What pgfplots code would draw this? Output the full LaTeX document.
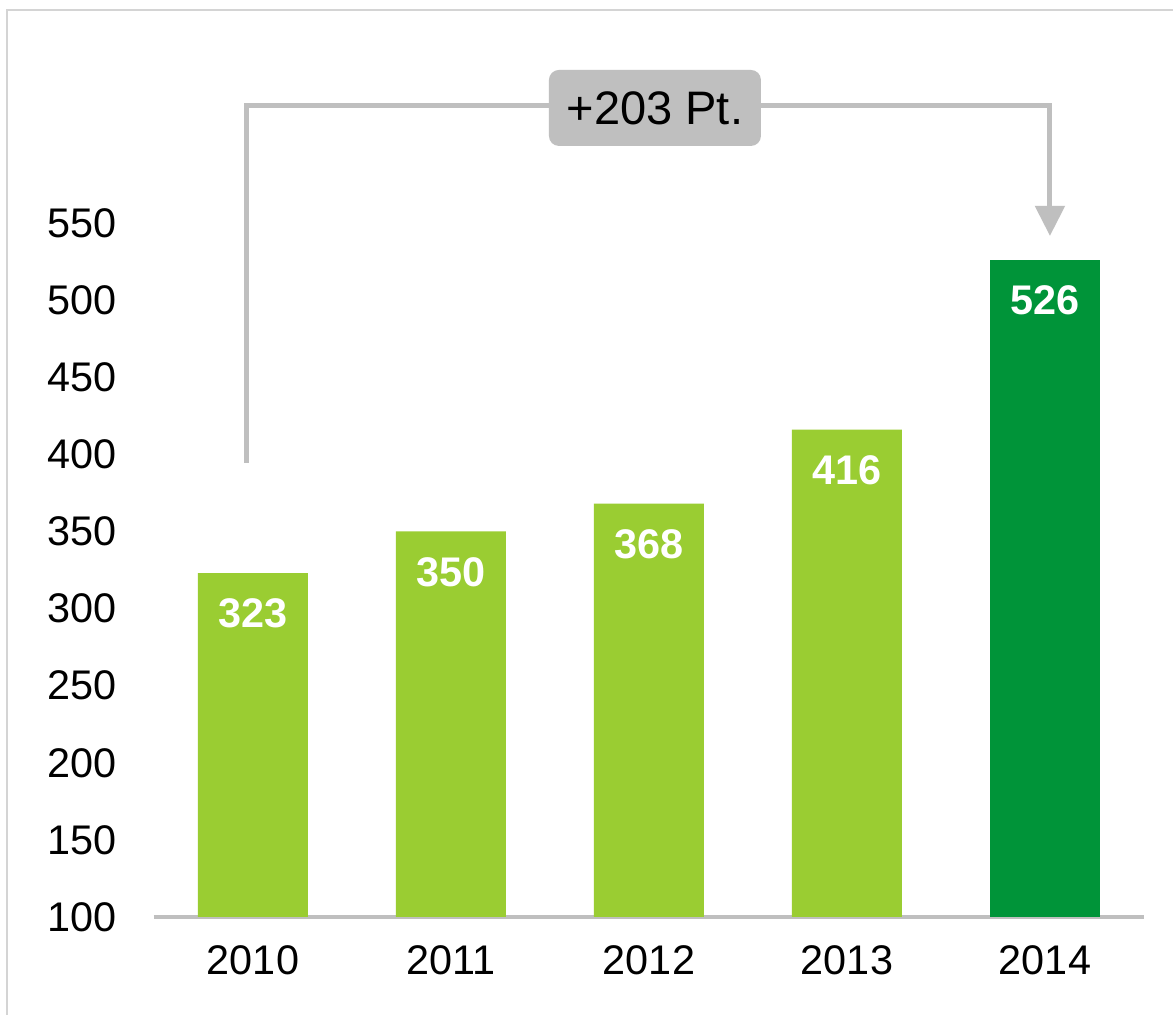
\documentclass[border=0pt]{standalone}
\usepackage{pgfplots}
\pgfplotsset{compat=1.18}
\usepackage{fontspec}
\setmainfont{Liberation Sans}
\usetikzlibrary{arrows.meta}
\definecolor{lgreen}{HTML}{9ACD32}
\definecolor{dgreen}{HTML}{009439}
\definecolor{lgray}{HTML}{BFBFBF}
\definecolor{fgray}{HTML}{D4D4D4}
\begin{document}
\begin{tikzpicture}
\useasboundingbox (-77pt,-49pt) rectangle (509.5pt,458.5pt);
\fill[white] (-77pt,-49pt) rectangle (509.5pt,458.5pt);
\draw[fgray, line width=1pt] (-73.5pt,-49pt) -- (-73.5pt,453.5pt) -- (509.5pt,453.5pt);
\begin{axis}[
  at={(0pt,0pt)}, anchor=south west,
  scale only axis, width=495pt, height=347pt,
  xmin=-0.5, xmax=4.5, ymin=100, ymax=550,
  xtick={0,1,2,3,4}, xticklabels={2010,2011,2012,2013,2014},
  ytick={100,150,...,550},
  axis lines*=left,
  x axis line style={lgray, line width=2.3pt},
  y axis line style={draw=none},
  major tick length=0pt,
  tick label style={font=\fontsize{20.7}{24}\selectfont},
  /pgf/number format/assume math mode=true,
  yticklabel style={anchor=east, inner sep=0pt, xshift=-18.5pt},
  xticklabel style={anchor=base, inner sep=0pt, yshift=-29pt},
  ybar, bar width=55pt, bar shift=0pt,
  nodes near coords,
  every node near coord/.append style={anchor=center, yshift=-20.25pt, text=white, font=\bfseries\fontsize{20.7}{24}\selectfont},
]
\addplot[fill=lgreen, draw=none] coordinates {(0,323) (1,350) (2,368) (3,416)};
\addplot[fill=dgreen, draw=none] coordinates {(4,526)};
\coordinate (A) at (axis cs:-0.035,394.4);
\coordinate (C) at (axis cs:4.025,626);
\coordinate (D) at (axis cs:4.025,541.6);
\coordinate (B) at (axis cs:2.03,624.6);
\end{axis}
\draw[lgray, line width=2.5pt, -{Triangle[width=14.5pt,length=15pt]}] (A) |- (C) -- (D);
\node[fill=lgray, rounded corners=5pt, minimum width=106pt, minimum height=38pt, inner sep=0pt, font=\fontsize{23.5}{28}\selectfont] at (B) {+203 Pt.};
\end{tikzpicture}
\end{document}
